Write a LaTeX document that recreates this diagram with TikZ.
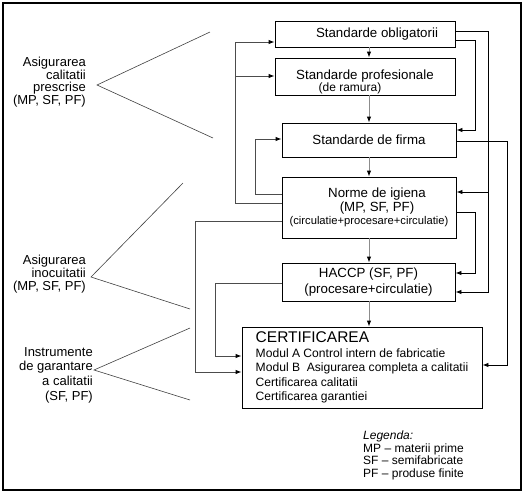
\documentclass[tikz,border=0pt]{standalone}
\usepackage{fontspec}
\setmainfont{Liberation Sans}
\usetikzlibrary{arrows.meta, calc, positioning}

\begin{document}
\begin{tikzpicture}[x=1pt, y=-1pt,
    box/.style={draw, line width=0.9pt, align=center, inner sep=1pt, font=\fontsize{13.3}{14}\selectfont},
    lab/.style={align=right, inner sep=0pt, font=\fontsize{13}{12.7}\selectfont},
    tip/.style={-{Latex[length=6pt, width=4.5pt, color=black]}},
    rl/.style={tip, line width=0.9pt},
    ll/.style={tip, line width=0.9pt, black!70},
    vl/.style={tip, line width=0.9pt, black!45},
    wl/.style={line width=0.6pt, black!75}]
  \useasboundingbox (0,0) rectangle (523,499);
  \draw[line width=1.2pt] (3,3) rectangle (521,490);

  \node[box, minimum width=180, minimum height=26] (stob) at (365,34) {\hspace*{24pt}Standarde obligatorii};
  \node[box, minimum width=180, minimum height=37] (stpr) at (365,76.5) {\rule{0pt}{20pt}Standarde profesionale\\[-1.5pt]{\fontsize{12}{12}\selectfont\hspace*{-30pt}(de ramura)}};
  \node[box, minimum width=174, minimum height=34] (stfi) at (369,140) {Standarde de firma};
  \node[box, minimum width=174, minimum height=61] (norm) at (369,207.5) {\hspace*{16pt}Norme de igiena\\\hspace*{16pt}(MP, SF, PF)\\[-1pt]{\fontsize{11.2}{12}\selectfont(circulatie+procesare+circulatie)}};
  \node[box, minimum width=173, minimum height=38] (hacc) at (368.5,282) {HACCP (SF, PF)\\[2pt](procesare+circulatie)};
  \node[box, minimum width=240, minimum height=81, align=left, font=\fontsize{12.1}{14.5}\selectfont] (cert) at (362,367.5) {{\fontsize{15.5}{16}\selectfont CERTIFICAREA}\\Modul A Control intern de fabricatie\\Modul B\ \ Asigurarea completa a calitatii\\Certificarea calitatii\\Certificarea garantiei};

  \foreach \a/\b in {stob/stpr, stpr/stfi, stfi/norm, norm/hacc, hacc/cert}
    \draw[vl] (\a.south -| 369,0) -- (\b.north -| 369,0);

  \draw[rl] (stob.east |- 0,31) -| (488,192) -- (norm.east |- 0,192);
  \draw[rl] (488,192) |- (hacc.east |- 0,292);
  \draw[rl] (stob.east |- 0,40) -| (475,130) -- (stfi.east |- 0,130);
  \draw[rl] (stfi.east |- 0,141) -| (507,365) -- (cert.east |- 0,365);
  \draw[rl] (norm.east |- 0,212) -| (475,273) -- (hacc.east |- 0,273);

  \draw[ll] (norm.west |- 0,203) -| (235,42) -- (stob.west |- 0,42);
  \draw[ll] (235,76) -- (stpr.west |- 0,76);
  \draw[ll] (norm.west |- 0,194) -| (255,139) -- (stfi.west |- 0,139);
  \draw[ll] (norm.west |- 0,221) -| (195,372) -- (cert.west |- 0,372);
  \draw[ll] (hacc.west |- 0,283) -| (215,356) -- (cert.west |- 0,356);

  \node[lab, anchor=east] (asg1) at (86,82) {Asigurarea\\calitatii\\prescrise\\(MP, SF, PF)};
  \node[lab, anchor=east] (asg2) at (86,274) {Asigurarea\\inocuitatii\\(MP, SF, PF)};
  \node[lab, anchor=east, font=\fontsize{13}{14.7}\selectfont] (instr) at (93,375) {Instrumente\\de garantare\\a calitatii\\(SF, PF)};

  \coordinate (w1) at (97,85);
  \coordinate (w2) at (91,277);
  \coordinate (w3) at (94,370);
  \draw[wl] (210,32) -- (w1) -- (213,138);
  \draw[wl] (183,183) -- (w2) -- (190,309);
  \draw[wl] (190,328) -- (w3) -- (190,400);

  \node[anchor=north west, align=left, inner sep=0pt, font=\fontsize{12}{12.5}\selectfont] (leg) at (363,431) {\textit{Legenda:}\\MP – materii prime\\SF – semifabricate\\PF – produse finite};
\end{tikzpicture}
\end{document}
